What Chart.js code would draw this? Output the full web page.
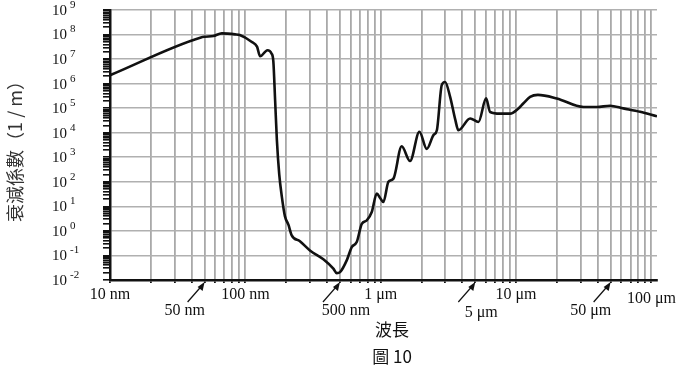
<!DOCTYPE html>
<html>
<head>
<meta charset="utf-8">
<script src="https://cdn.jsdelivr.net/npm/chart.js@4"></script>
<style>
  body { margin: 0; background: #fff; }
  canvas { display: block; }
</style>
</head>
<body>
<canvas id="myChart" width="678" height="375"></canvas>
<script>
// wavelength in nm, attenuation coefficient in 1/m
const wavelengthNm = [
  10, 47, 50, 58, 67, 84, 91, 111, 122, 128.5, 145.6, 156, 161, 166, 171, 178,
  186, 196, 208, 220, 253, 300, 377, 447, 473, 501, 561, 611, 665, 725, 789,
  859, 935, 990, 1047, 1140, 1242, 1429, 1648, 1932, 2190, 2454, 2600, 2825,
  2990, 3258, 3556, 3750, 4580, 5275, 6010, 6437, 7626, 9037, 10420, 11300,
  12700, 14500, 20000, 31500, 39500, 49500, 62000, 82600, 110000
];
const attenuation = [
  2.2e6, 7.6e7, 8.1e7, 8.7e7, 1.12e8, 1.02e8, 9.5e7, 5.1e7, 3.2e7, 1.3e7, 2.3e7,
  1.7e7, 8e6, 2e5, 5e3, 200, 25, 4, 1.8, 0.66, 0.38, 0.16, 0.07, 0.029, 0.019,
  0.021, 0.063, 0.22, 0.35, 1.95, 2.7, 5.9, 33, 22, 15, 100, 135, 2800, 700,
  11000, 2200, 8000, 12600, 8.7e5, 1.17e6, 2.9e5, 3.4e4, 1.26e4, 3.8e4, 2.75e4,
  2.5e5, 7e4, 6e4, 6e4, 9.8e4, 1.55e5, 2.9e5, 3.5e5, 2.5e5, 1.12e5, 1.12e5,
  1.26e5, 9.8e4, 7.1e4, 4.7e4
];

const xTickValues = [10, 100, 1000, 10000, 100000];
const xTickLabels = ["10 nm", "100 nm", "1 \u03bcm", "10 \u03bcm", "100 \u03bcm"];
const xArrowValues = [50, 500, 5000, 50000];
const xArrowLabels = ["50 nm", "500 nm", "5 \u03bcm", "50 \u03bcm"];
const yExponents = [-2, -1, 0, 1, 2, 3, 4, 5, 6, 7, 8, 9];

const xTitle = "波長";
const yTitle = "衰減係數（1 / m）";
const caption = "圖 10";

function logTicks(min, max) {
  const out = [];
  for (let d = Math.log10(min); d < Math.log10(max); d++) {
    for (let m = 1; m < 10; m++) out.push({ value: m * Math.pow(10, d) });
  }
  out.push({ value: max });
  return out;
}
function isDecade(v) {
  const l = Math.log10(v);
  return Math.abs(l - Math.round(l)) < 1e-6;
}

const labelsPlugin = {
  id: "labels",
  afterDraw(chart) {
    const ctx = chart.ctx;
    const xs = chart.scales.x;
    const ys = chart.scales.y;
    const bottom = chart.chartArea.bottom;
    ctx.save();
    ctx.fillStyle = "#111";
    ctx.strokeStyle = "#111";

    // y tick labels 10^n
    ctx.textBaseline = "middle";
    yExponents.forEach((e) => {
      const y = ys.getPixelForValue(Math.pow(10, e));
      ctx.font = "15px 'Liberation Serif'";
      ctx.textAlign = "right";
      ctx.fillText("10", 67, y + 1);
      ctx.font = "11px 'Liberation Serif'";
      ctx.textAlign = "left";
      ctx.fillText(String(e), 70, y - 5);
    });

    // x labels, first row
    ctx.font = "16px 'Liberation Serif'";
    ctx.textAlign = "center";
    xTickValues.forEach((v, i) => {
      const x = xs.getPixelForValue(v);
      const dy = i === xTickValues.length - 1 ? 4 : 0;
      ctx.fillText(xTickLabels[i], x, bottom + 15 + dy);
    });

    // arrow labels, second row
    const offs = [-20, 6, 6, -20];
    xArrowValues.forEach((v, i) => {
      const x = xs.getPixelForValue(v);
      ctx.fillText(xArrowLabels[i], x + offs[i], bottom + 31 + (i === 2 ? 2 : 0));
      ctx.lineWidth = 1.2;
      ctx.beginPath();
      ctx.moveTo(x - 17, bottom + 22);
      ctx.lineTo(x - 3, bottom + 6);
      ctx.stroke();
      ctx.beginPath();
      ctx.moveTo(x, bottom + 2);
      ctx.lineTo(x - 7, bottom + 7);
      ctx.lineTo(x - 2, bottom + 11);
      ctx.closePath();
      ctx.fill();
    });

    // titles
    ctx.font = "17px 'Noto Sans CJK TC'";
    ctx.fillText(xTitle, 392, 330);
    ctx.fillText(caption, 392, 357);

    ctx.fillStyle = "#333";
    ctx.font = "18px 'Noto Sans CJK TC'";
    ctx.translate(15, 147);
    ctx.rotate(-Math.PI / 2);
    ctx.fillText(yTitle, 0, 0);
    ctx.restore();
  },
};

const myChart = new Chart(document.getElementById("myChart"), {
  type: "line",
  data: {
    datasets: [
      {
        data: wavelengthNm.map((w, i) => ({ x: w, y: attenuation[i] })),
        borderColor: "#111",
        borderWidth: 2.6,
        pointRadius: 0,
        cubicInterpolationMode: "monotone",
        fill: false,
      },
    ],
  },
  options: {
    responsive: false,
    devicePixelRatio: 1,
    animation: false,
    layout: { padding: { top: 10, right: 21, left: 0, bottom: 0 } },
    plugins: { legend: { display: false }, tooltip: { enabled: false } },
    scales: {
      x: {
        type: "logarithmic",
        min: 10,
        max: 110000,
        afterBuildTicks: (s) => {
          s.ticks = logTicks(10, 100000);
        },
        afterFit: (s) => {
          s.height = 95;
        },
        ticks: { display: false },
        grid: {
          color: "#a9a9a9",
          lineWidth: 1.8,
          tickColor: "#111",
          tickLength: 3,
        },
        border: { color: "#111", width: 2.5 },
      },
      y: {
        type: "logarithmic",
        min: 0.01,
        max: 1e9,
        afterBuildTicks: (s) => {
          s.ticks = logTicks(0.01, 1e9);
        },
        afterFit: (s) => {
          s.width = 110;
        },
        ticks: { display: false },
        grid: {
          color: (c) => (c.tick && isDecade(c.tick.value) ? "#b0b0b0" : "rgba(0,0,0,0)"),
          lineWidth: 1.6,
          tickColor: "#111",
          tickLength: 7,
        },
        border: { color: "#111", width: 2.5 },
      },
    },
  },
  plugins: [labelsPlugin],
});
</script>
</body>
</html>
